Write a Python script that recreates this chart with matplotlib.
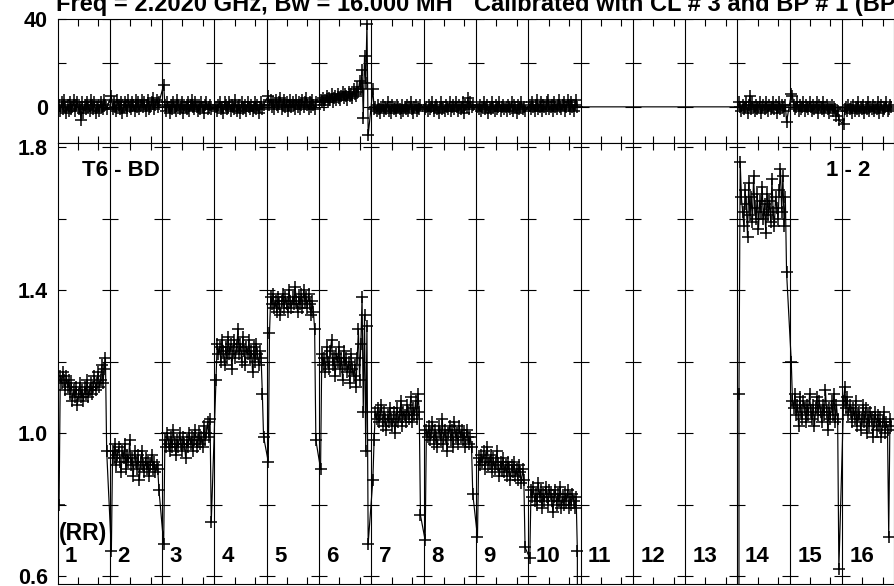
import numpy as np
import matplotlib
matplotlib.use("Agg")
import matplotlib.pyplot as plt
from matplotlib.transforms import blended_transform_factory

plt.rcParams['font.family'] = ['Liberation Sans', 'DejaVu Sans']
plt.rcParams['font.weight'] = 'bold'

# ---------------- data ----------------
title_left = "Freq = 2.2020 GHz, Bw = 16.000 MH"
title_right = "Calibrated with CL # 3 and BP # 1 (BP"
source_label = "T6 - BD"
baseline_label = "1 - 2"
pol_label = "(RR)"
channel_labels = [str(i) for i in range(1, 17)]

# amplitude per channel (empty = flagged, drawn as zero)
amp_1 = [0.80, 1.16, 1.14, 1.17, 1.15, 1.12, 1.16, 1.13, 1.15, 1.11, 1.14, 1.09, 1.12, 1.10,
         1.13, 1.08, 1.11, 1.14, 1.10, 1.12, 1.09, 1.13, 1.11, 1.15, 1.10, 1.12, 1.14, 1.11,
         1.13, 1.16, 1.12, 1.14, 1.17, 1.13, 1.15, 1.19, 1.14, 1.18, 1.21, 0.95]
amp_2 = [0.67, 0.95, 0.93, 0.97, 0.91, 0.94, 0.96, 0.92, 0.89, 0.95, 0.93, 0.97, 0.90, 0.94,
         0.92, 0.98, 0.91, 0.93, 0.88, 0.95, 0.92, 0.90, 0.94, 0.87, 0.92, 0.95, 0.91, 0.89,
         0.93, 0.90, 0.92, 0.88, 0.91, 0.94, 0.90, 0.92, 0.89, 0.91, 0.90, 0.84]
amp_3 = [0.69, 0.98, 0.96, 1.00, 0.97, 0.95, 0.99, 0.96, 1.01, 0.97, 0.94, 0.98, 0.96, 1.00,
         0.97, 0.95, 0.99, 0.97, 0.93, 0.98, 0.96, 1.00, 0.97, 0.99, 0.95, 0.98, 1.01, 0.96,
         0.98, 1.00, 0.97, 0.99, 0.96, 1.02, 0.98, 1.00, 1.03, 0.99, 1.04, 0.75]
amp_4 = [1.15, 1.25, 1.22, 1.24, 1.20, 1.26, 1.23, 1.19, 1.24, 1.21, 1.27, 1.22, 1.25, 1.18,
         1.23, 1.26, 1.21, 1.24, 1.29, 1.22, 1.25, 1.20, 1.27, 1.23, 1.19, 1.24, 1.22, 1.26,
         1.21, 1.23, 1.17, 1.24, 1.20, 1.25, 1.22, 1.19, 1.23, 1.21, 1.11, 0.99]
amp_5 = [0.92, 1.28, 1.38, 1.36, 1.39, 1.35, 1.37, 1.34, 1.38, 1.36, 1.33, 1.37, 1.39, 1.35,
         1.38, 1.36, 1.34, 1.40, 1.37, 1.35, 1.38, 1.36, 1.41, 1.37, 1.34, 1.38, 1.36, 1.39,
         1.35, 1.40, 1.37, 1.38, 1.35, 1.39, 1.36, 1.33, 1.37, 1.34, 1.29, 0.98]
amp_6 = [0.90, 1.22, 1.19, 1.21, 1.17, 1.24, 1.20, 1.18, 1.23, 1.26, 1.19, 1.21, 1.16, 1.22,
         1.20, 1.24, 1.18, 1.21, 1.15, 1.23, 1.19, 1.21, 1.17, 1.20, 1.14, 1.22, 1.18, 1.16,
         1.19, 1.13, 1.21, 1.29, 1.15, 1.25, 1.38, 1.06, 1.33, 0.95, 1.30, 0.69]
amp_7 = [0.87, 0.98, 1.06, 1.04, 1.07, 1.03, 1.05, 1.08, 1.02, 1.06, 1.04, 1.01, 1.05, 1.03,
         1.07, 1.04, 1.02, 1.06, 1.00, 1.04, 1.07, 1.03, 1.05, 1.09, 1.02, 1.06, 1.05, 1.03,
         1.08, 1.06, 1.04, 1.10, 1.03, 1.07, 1.05, 1.09, 1.04, 1.11, 1.06, 0.77]
amp_8 = [0.70, 1.01, 0.99, 1.02, 0.98, 1.00, 1.03, 0.97, 1.01, 0.99, 0.96, 1.02, 1.00, 0.98,
         1.04, 0.97, 1.01, 0.99, 0.95, 1.00, 1.02, 0.98, 1.01, 0.96, 1.03, 0.99, 1.00, 0.97,
         1.02, 0.99, 1.01, 0.98, 1.00, 0.96, 1.01, 0.99, 0.97, 0.99, 0.96, 0.83]
amp_9 = [0.71, 0.93, 0.91, 0.94, 0.92, 0.95, 0.90, 0.93, 0.96, 0.91, 0.92, 0.94, 0.89, 0.93,
         0.90, 0.92, 0.95, 0.91, 0.88, 0.92, 0.90, 0.93, 0.89, 0.91, 0.88, 0.92, 0.90, 0.87,
         0.91, 0.89, 0.92, 0.88, 0.90, 0.87, 0.91, 0.89, 0.86, 0.90, 0.87, 0.68]
amp_10 = [0.65, 0.84, 0.82, 0.85, 0.81, 0.83, 0.80, 0.86, 0.82, 0.84, 0.79, 0.83, 0.81, 0.85,
          0.82, 0.80, 0.84, 0.83, 0.81, 0.78, 0.82, 0.84, 0.80, 0.83, 0.81, 0.85, 0.79, 0.82,
          0.80, 0.83, 0.81, 0.84, 0.79, 0.82, 0.80, 0.83, 0.81, 0.79, 0.82, 0.67]
amp_11 = []
amp_12 = []
amp_13 = []
amp_14 = [1.11, 1.76, 1.66, 1.62, 1.58, 1.68, 1.64, 1.55, 1.70, 1.61, 1.66, 1.59, 1.72, 1.63,
          1.60, 1.67, 1.57, 1.65, 1.62, 1.69, 1.60, 1.64, 1.56, 1.67, 1.61, 1.65, 1.59, 1.71,
          1.62, 1.58, 1.66, 1.63, 1.60, 1.68, 1.74, 1.62, 1.72, 1.58, 1.66, 1.45]
amp_15 = [1.20, 1.09, 1.07, 1.11, 1.05, 1.08, 1.02, 1.10, 1.06, 1.04, 1.09, 1.07, 1.03, 1.08,
          1.05, 1.11, 1.06, 1.04, 1.08, 1.02, 1.07, 1.10, 1.05, 1.09, 1.06, 1.03, 1.08, 1.05,
          1.12, 1.06, 1.01, 1.07, 1.04, 1.09, 1.05, 1.11, 1.03, 1.08, 1.04, 0.62]
amp_16 = [1.09, 1.13, 1.07, 1.10, 1.05, 1.08, 1.06, 1.03, 1.07, 1.04, 1.09, 1.02, 1.05, 1.06,
          1.01, 1.04, 1.08, 1.03, 1.07, 1.00, 1.05, 1.02, 1.06, 1.04, 0.99, 1.03, 1.06, 1.01,
          1.05, 1.02, 1.04, 0.99, 1.03, 1.06, 1.00, 1.03, 1.01, 0.71, 1.04, 1.02]

# phase (degrees) per channel
phs_1 = [1, -2, 2, -1, 3, 0, -3, 1, -2, 2, -1, 0, 3, -2, 1, 2, -1, 0, -6, 2,
         -3, 1, -1, 2, 0, -2, 3, 1, -1, 2, -3, 0, 1, -2, 2, 0, -1, 3, 1, -1]
phs_2 = [5, -1, 2, 0, -2, 3, 1, -1, 2, -3, 0, 2, 1, -2, 3, 0, -1, 2, 1, -2,
         3, 0, 2, -1, 1, 3, 0, 2, -2, 1, 3, -1, 0, 2, 4, -1, 1, 3, 0, 2]
phs_3 = [10, 1, -2, 2, 0, -3, 1, -1, 2, 0, -2, 3, 1, -1, 0, 2, -3, 1, 0, -1,
         2, -2, 1, 3, 0, -1, 2, 0, -2, 1, -1, 2, 0, -3, 1, 2, -1, 0, 1, -1]
phs_4 = [0, -2, 1, 2, -1, 0, -3, 2, 1, -1, 0, 2, -2, 1, 0, -1, 3, -2, 0, 1,
         -3, 2, -1, 0, 1, -2, 2, 0, -1, 1, -2, 0, 2, -1, 1, -3, 0, 2, -1, 1]
phs_5 = [5, 1, 3, 0, 2, -1, 3, 1, 0, 2, 4, -1, 1, 3, 0, 2, -2, 1, 3, 0,
         2, 1, -1, 3, 0, 2, -1, 1, 3, 0, 2, 4, 1, -1, 2, 0, 3, 1, -1, 2]
phs_6 = [3, 2, 4, 1, 3, 5, 2, 4, 3, 6, 2, 4, 5, 3, 6, 4, 3, 5, 7, 4,
         6, 5, 3, 7, 5, 6, 4, 8, 6, 5, 9, 7, 12, 8, 17, -5, 23, 11, 38, -13]
phs_7 = [8, -1, 0, -2, 1, -1, -3, 0, 1, -2, 0, -1, 2, -2, 0, -3, 1, -1, 0, -2,
         1, 0, -1, -3, 1, -2, 0, -1, 1, -2, 0, 2, -1, -3, 0, 1, -2, 0, -1, 1]
phs_8 = [-1, 0, -2, 1, -1, 0, 2, -2, 0, 1, -1, -3, 0, 2, -1, 0, -2, 1, 0, -1,
         2, -2, 0, 1, -1, 2, 0, -2, 1, -1, 0, 2, -3, 1, 0, 4, -1, 2, 0, 1]
phs_9 = [0, -1, 1, -2, 0, 2, -1, 0, 1, -3, 0, -1, 2, 0, -2, 1, -1, 0, 2, -2,
         0, 1, -1, 0, -2, 1, 0, -1, 2, -2, 1, 0, -3, 1, -1, 0, 2, -1, 0, -2]
phs_10 = [1, -1, 2, 0, -2, 1, 3, -1, 0, 2, -2, 1, 0, -1, 2, 3, -1, 0, 1, -2,
          2, 0, -1, 1, 3, 0, -1, 1, 2, -2, 0, 3, 1, -1, 2, 0, -2, 1, 3, 0]
phs_11 = []
phs_12 = []
phs_13 = []
phs_14 = [2, 0, -2, 1, -1, 0, 2, -3, 1, 5, -1, 2, 0, -2, 1, -1, 0, 2, -3, 0,
          1, -1, 2, 0, -2, 1, -1, 0, 2, -1, 1, -3, 0, 2, -1, 1, 0, -2, 1, -7]
phs_15 = [6, 5, 1, -1, 0, 2, -2, 1, -1, 0, 2, -2, 1, 0, -1, 2, 0, -2, 1, -1,
          0, 2, -3, 1, 0, -1, 2, -2, 0, 1, -1, -3, 0, 1, -2, 0, -1, -4, -2, -6]
phs_16 = [-8, -1, 0, -2, 1, -1, 0, -3, 1, -2, 0, -1, 2, -2, 0, -1, 1, -3, 0, -1,
          2, -2, 0, -1, 1, -2, 0, -1, 2, -3, 0, 1, -2, -1, 0, 2, -2, -1, 1, 0]

amp_channels = [amp_1, amp_2, amp_3, amp_4, amp_5, amp_6, amp_7, amp_8,
                amp_9, amp_10, amp_11, amp_12, amp_13, amp_14, amp_15, amp_16]
phs_channels = [phs_1, phs_2, phs_3, phs_4, phs_5, phs_6, phs_7, phs_8,
                phs_9, phs_10, phs_11, phs_12, phs_13, phs_14, phs_15, phs_16]


def build(channels):
    """Marker points and connecting-line points (flagged channels drawn at zero)."""
    mx, my, lx, ly = [], [], [], []
    in_gap = False
    for k, vals in enumerate(channels):
        if len(vals) == 0:
            if not in_gap and lx:
                lx.append(lx[-1]); ly.append(0.0)
            in_gap = True
            continue
        xs = k + np.linspace(0.03, 0.94, len(vals))
        if in_gap:
            lx.append(xs[0]); ly.append(0.0)
            in_gap = False
        mx.extend(xs); my.extend(vals)
        lx.extend(xs); ly.extend(vals)
    return mx, my, lx, ly


# ---------------- figure ----------------
W, H = 894, 586
fig = plt.figure(figsize=(W / 100, H / 100), dpi=100)

left = 57.5 / W
width = 836.8 / W
ax_top = fig.add_axes([left, 1 - 143 / H, width, (143 - 19) / H])
ax_bot = fig.add_axes([left, 1 - 584 / H, width, (584 - 143) / H])

n_chan = len(channel_labels)
xticks = [k + f for k in range(n_chan) for f in (0.39, 0.78)]

for ax, chans, ylim, yt, ylab in [
        (ax_top, phs_channels, (-16.5, 40.1), [0, 20, 40], ['0', '', '40']),
        (ax_bot, amp_channels, (0.5776, 1.812),
         [0.6, 0.8, 1.0, 1.2, 1.4, 1.6, 1.8], ['0.6', '', '1.0', '', '1.4', '', '1.8'])]:
    mx, my, lx, ly = build(chans)
    ax.plot(lx, ly, color='black', lw=0.85, zorder=2)
    ax.plot(mx, my, linestyle='none', marker='+', ms=8.5, mew=1.1, color='black', zorder=3)
    ax.set_xlim(0, n_chan)
    ax.set_ylim(*ylim)
    # channel separators with cross ticks
    for s in range(1, n_chan):
        ax.axvline(s, color='black', lw=0.8, zorder=1)
        ax.plot([s] * len(yt), yt, linestyle='none', marker='_', ms=11.5, mew=0.8,
                color='black', zorder=1)
    ax.set_xticks(xticks)
    ax.set_xticklabels([])
    ax.set_yticks(yt)
    ax.set_yticklabels(ylab)
    ax.tick_params(axis='x', direction='in', length=5, width=0.8, top=True, bottom=True)
    ax.tick_params(axis='y', direction='in', length=6, width=0.8, left=True, right=False,
                   labelsize=15.5, pad=7)
    for t in ax.get_yticklabels():
        t.set_fontweight('bold')
    for sp in ax.spines.values():
        sp.set_linewidth(0.8)

# labels in the amplitude panel
trans = blended_transform_factory(ax_bot.transData, ax_bot.transAxes)
for k, lab in enumerate(channel_labels):
    ax_bot.text(k + 0.143, 0.0506, lab, transform=trans, fontsize=16, fontweight='bold',
                ha='left', va='baseline')
ax_bot.text(0.03, 0.0998, pol_label, transform=trans, fontsize=16.5, fontweight='bold',
            ha='left', va='baseline')
ax_bot.text(0.0287, 0.925, source_label, transform=ax_bot.transAxes, fontsize=16,
            fontweight='bold', ha='left', va='baseline')
ax_bot.text(0.918, 0.925, baseline_label, transform=ax_bot.transAxes, fontsize=16,
            fontweight='bold', ha='left', va='baseline')

# title (clipped by the figure edge as in the original)
fig.text(56.3 / W, 1 - 11 / H, title_left, fontsize=17, fontweight='bold',
         ha='left', va='baseline')
fig.text(474 / W, 1 - 11 / H, title_right, fontsize=17, fontweight='bold',
         ha='left', va='baseline')

fig.savefig('out.png', dpi=100)
